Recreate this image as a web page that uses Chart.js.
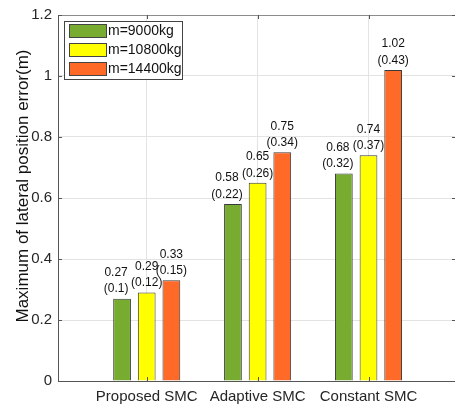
<!DOCTYPE html>
<html>
<head>
<meta charset="utf-8">
<script src="https://cdn.jsdelivr.net/npm/chart.js@4/dist/chart.umd.min.js"></script>
<style>
  html, body { margin: 0; padding: 0; background: #fff; }
  #wrap { width: 455px; height: 409px; }
</style>
</head>
<body>
<div id="wrap"><canvas id="errChart"></canvas></div>
<script>
// data
const categories = ['Proposed SMC', 'Adaptive SMC', 'Constant SMC'];
const massLabels = ['m=9000kg', 'm=10800kg', 'm=14400kg'];
const maxErr9000 = [0.27, 0.58, 0.68];
const maxErr10800 = [0.29, 0.65, 0.74];
const maxErr14400 = [0.33, 0.75, 1.02];
const dev9000 = ['0.1', '0.22', '0.32'];
const dev10800 = ['0.12', '0.26', '0.37'];
const dev14400 = ['0.15', '0.34', '0.43'];
const yTicks = [0, 0.2, 0.4, 0.6, 0.8, 1, 1.2];

const colors = ['#77ac30', '#ffff00', '#ff6a28'];
const FONT = "'Liberation Sans', Arial, sans-serif";

function toPoints(vals) {
    return vals.map((v, i) => ({ x: i + 1, y: v }));
}

const series = [maxErr9000, maxErr10800, maxErr14400];
const devs = [dev9000, dev10800, dev14400];

// value + (deviation) above every bar
const barLabels = {
    id: 'barLabels',
    afterDatasetsDraw(chart) {
        const ctx = chart.ctx;
        const shift = [-6, 0, 0];
        ctx.save();
        ctx.font = '12px ' + FONT;
        ctx.fillStyle = '#111';
        ctx.textAlign = 'center';
        ctx.textBaseline = 'middle';
        chart.data.datasets.forEach((ds, d) => {
            chart.getDatasetMeta(d).data.forEach((bar, i) => {
                const x = bar.x + shift[d];
                ctx.fillText(String(series[d][i]), x, bar.y - 26);
                ctx.fillText('(' + devs[d][i] + ')', x, bar.y - 9.5);
            });
        });
        ctx.restore();
    }
};

// box top, inward ticks, legend and y title, MATLAB style
const frame = {
    id: 'frame',
    afterDraw(chart) {
        const ctx = chart.ctx;
        const a = chart.chartArea;
        const xs = chart.scales.x, ys = chart.scales.y;
        ctx.save();
        ctx.lineWidth = 1;
        ctx.strokeStyle = '#8c8c8c';
        ctx.beginPath();
        ctx.moveTo(a.left, a.top + 0.5);
        ctx.lineTo(a.right, a.top + 0.5);
        ctx.stroke();

        ctx.strokeStyle = '#555';
        ctx.beginPath();
        ctx.moveTo(a.left + 0.5, a.top);
        ctx.lineTo(a.left + 0.5, a.bottom);
        ctx.moveTo(a.left, a.bottom + 0.5);
        ctx.lineTo(a.right, a.bottom + 0.5);
        yTicks.forEach(v => {
            const y = Math.round(ys.getPixelForValue(v)) + 0.5;
            ctx.moveTo(a.left, y); ctx.lineTo(a.left + 4, y);
            ctx.moveTo(a.right, y); ctx.lineTo(a.right - 3, y);
        });
        categories.forEach((c, i) => {
            const x = Math.round(xs.getPixelForValue(i + 1)) + 0.5;
            ctx.moveTo(x, a.bottom); ctx.lineTo(x, a.bottom - 4);
            ctx.moveTo(x, a.top); ctx.lineTo(x, a.top + 4);
        });
        ctx.stroke();

        // legend
        const lx = 64, ly = 21, lw = 118, lh = 58;
        ctx.fillStyle = '#fff';
        ctx.fillRect(lx, ly, lw, lh);
        ctx.strokeStyle = '#444';
        ctx.strokeRect(lx + 0.5, ly + 0.5, lw, lh);
        ctx.font = '14px ' + FONT;
        ctx.textAlign = 'left';
        ctx.textBaseline = 'middle';
        chart.data.datasets.forEach((ds, d) => {
            const cy = 31 + d * 19;
            ctx.fillStyle = ds.backgroundColor;
            ctx.fillRect(69, cy - 6.5, 37, 13);
            ctx.strokeStyle = '#444';
            ctx.strokeRect(69.5, cy - 6.5, 37, 13);
            ctx.fillStyle = '#111';
            ctx.fillText(ds.label, 108, cy + 0.5);
        });

        // y title
        ctx.translate(28, 186);
        ctx.rotate(-Math.PI / 2);
        ctx.font = '17px ' + FONT;
        ctx.fillStyle = '#111';
        ctx.textAlign = 'center';
        ctx.textBaseline = 'alphabetic';
        ctx.fillText('Maximum of lateral position error(m)', 0, 0);
        ctx.restore();
    }
};

new Chart(document.getElementById('errChart'), {
    type: 'bar',
    data: {
        datasets: series.map((vals, d) => ({
            label: massLabels[d],
            data: toPoints(vals),
            backgroundColor: colors[d],
            borderColor: '#3a3a3a',
            borderWidth: 1,
            categoryPercentage: 0.667,
            barPercentage: 0.72
        }))
    },
    options: {
        responsive: true,
        maintainAspectRatio: false,
        animation: false,
        layout: { padding: { top: 12, right: 0, left: 0, bottom: 0 } },
        plugins: {
            legend: { display: false },
            tooltip: { enabled: false }
        },
        scales: {
            x: {
                type: 'linear',
                min: 0.2,
                max: 3.78,
                offset: false,
                afterBuildTicks: s => { s.ticks = categories.map((c, i) => ({ value: i + 1 })); },
                afterFit: s => { s.height = 28; },
                ticks: {
                    callback: v => categories[v - 1],
                    color: '#262626',
                    font: { family: FONT, size: 15 },
                    padding: 7,
                    maxRotation: 0
                },
                grid: { color: '#e3e3e3', drawTicks: false, offset: false },
                border: { display: false }
            },
            y: {
                min: 0,
                max: 1.2,
                afterBuildTicks: s => { s.ticks = yTicks.map(v => ({ value: v })); },
                afterFit: s => { s.width = 58; },
                ticks: {
                    callback: v => String(v),
                    color: '#262626',
                    font: { family: FONT, size: 15 },
                    padding: 6
                },
                grid: { color: '#e3e3e3', drawTicks: false },
                border: { display: false }
            }
        }
    },
    plugins: [barLabels, frame]
});
</script>
</body>
</html>
